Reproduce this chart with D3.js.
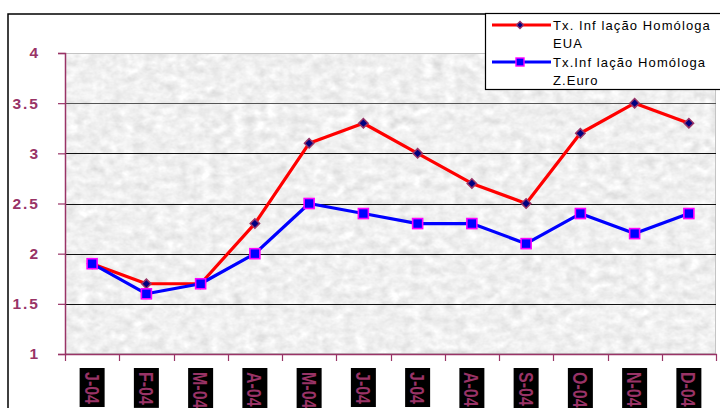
<!DOCTYPE html>
<html>
<head>
<meta charset="utf-8">
<script src="https://cdn.jsdelivr.net/npm/d3@7"></script>
<style>
  html, body { margin: 0; padding: 0; background: #fff; }
  svg { display: block; }
</style>
</head>
<body>
<svg id="chart" width="720" height="408"></svg>
<script>
// Monthly labels for 2004
const months = ["J-04", "F-04", "M-04", "A-04", "M-04", "J-04", "J-04", "A-04", "S-04", "O-04", "N-04", "D-04"];
// Year-on-year inflation, USA
const usaRates = [1.9, 1.7, 1.7, 2.3, 3.1, 3.3, 3.0, 2.7, 2.5, 3.2, 3.5, 3.3];
// Year-on-year inflation, Euro area
const euroRates = [1.9, 1.6, 1.7, 2.0, 2.5, 2.4, 2.3, 2.3, 2.1, 2.4, 2.2, 2.4];
const yTicks = [1, 1.5, 2, 2.5, 3, 3.5, 4];
const seriesNames = [["Tx. Inf lação Homóloga", "EUA"], ["Tx.Inf lação Homóloga", "Z.Euro"]];

const svg = d3.select("#chart");
const plot = { left: 65, right: 716, top: 53, bottom: 354 };
const axisColor = "#993366";
const font = "Arial, 'Liberation Sans', sans-serif";

// Outer chart frame
svg.append("rect")
  .attr("x", 8).attr("y", 14).attr("width", 740).attr("height", 420)
  .attr("fill", "#fff").attr("stroke", "#000").attr("stroke-width", 1.5);

// Mottled light-gray texture for the plot area
const defs = svg.append("defs");
const filt = defs.append("filter").attr("id", "grain")
  .attr("x", 0).attr("y", 0).attr("width", "100%").attr("height", "100%")
  .attr("color-interpolation-filters", "sRGB");
filt.append("feTurbulence")
  .attr("type", "fractalNoise").attr("baseFrequency", "0.09 0.12").attr("numOctaves", 3).attr("seed", 11)
  .attr("result", "noise");
filt.append("feColorMatrix").attr("in", "noise").attr("type", "matrix")
  .attr("values", "0.1 0.1 0.1 0 0.79  0.1 0.1 0.1 0 0.79  0.1 0.1 0.1 0 0.79  0 0 0 0 1")
  .attr("result", "gray");
filt.append("feComposite").attr("in", "gray").attr("in2", "SourceGraphic").attr("operator", "in");

const x = d3.scaleBand().domain(d3.range(months.length)).range([plot.left, plot.right]);
const y = d3.scaleLinear().domain([1, 4]).range([plot.bottom, plot.top]);
const cx = i => x(i) + x.bandwidth() / 2;

svg.append("rect")
  .attr("x", plot.left).attr("y", plot.top)
  .attr("width", plot.right - plot.left).attr("height", plot.bottom - plot.top)
  .attr("fill", "#ebebeb")
  .attr("filter", "url(#grain)");
svg.append("rect")
  .attr("x", plot.left + 0.5).attr("y", plot.top + 0.5)
  .attr("width", plot.right - plot.left - 1).attr("height", plot.bottom - plot.top - 1)
  .attr("fill", "none").attr("stroke", "#c4c4c4").attr("stroke-width", 1);

// Horizontal gridlines
svg.append("g").selectAll("line")
  .data(yTicks.filter(v => v > 1 && v < 4))
  .join("line")
  .attr("x1", plot.left).attr("x2", plot.right)
  .attr("y1", d => Math.round(y(d)) + 0.5).attr("y2", d => Math.round(y(d)) + 0.5)
  .attr("stroke", d => d === 3.5 ? "#555" : "#111").attr("stroke-width", 1);

// Y axis
const yAxis = svg.append("g")
  .attr("transform", `translate(${plot.left},0)`)
  .call(d3.axisLeft(y).tickValues(yTicks).tickSize(7).tickPadding(18)
    .tickFormat(d => String(d)));
yAxis.select(".domain").attr("stroke", axisColor).attr("stroke-width", 1.5);
yAxis.selectAll(".tick line").attr("stroke", axisColor).attr("stroke-width", 1.2);
yAxis.selectAll(".tick text")
  .attr("fill", axisColor)
  .style("font-family", font)
  .style("font-size", "15.5px").style("font-weight", "bold")
  .style("letter-spacing", "2px");

// X axis: ticks at band boundaries
const xAxisG = svg.append("g");
xAxisG.append("line")
  .attr("x1", plot.left).attr("x2", plot.right + 1)
  .attr("y1", plot.bottom + 0.5).attr("y2", plot.bottom + 0.5)
  .attr("stroke", axisColor).attr("stroke-width", 1.5);
const boundaries = d3.range(months.length + 1).map(i => i < months.length ? x(i) : x(i - 1) + x.bandwidth());
xAxisG.selectAll("line.tk").data(boundaries).join("line").attr("class", "tk")
  .attr("x1", d => Math.round(d) + 0.5).attr("x2", d => Math.round(d) + 0.5)
  .attr("y1", plot.bottom).attr("y2", plot.bottom + 7)
  .attr("stroke", axisColor).attr("stroke-width", 1.2);

// Month labels: rotated, tall bold text on black tags sized to the text
const lab = svg.append("g").selectAll("g").data(months).join("g")
  .attr("transform", (d, i) => `translate(${cx(i)},368)`);
lab.append("rect")
  .attr("x", -12.5).attr("y", 0).attr("width", 25).attr("fill", "#000");
const tagText = lab.append("text")
  .attr("transform", "translate(0,4) rotate(90) scale(1,1.3)")
  .attr("dy", "0.36em")
  .attr("fill", axisColor)
  .style("font-family", font)
  .style("font-size", "16px").style("font-weight", "bold")
  .text(d => d);
tagText.each(function () {
  const len = this.getComputedTextLength();
  d3.select(this.parentNode).select("rect").attr("height", len + 7);
});

// Series lines
const line = d3.line().x((d, i) => cx(i)).y(d => y(d));
svg.append("path").datum(usaRates).attr("d", line)
  .attr("fill", "none").attr("stroke", "#ff0000").attr("stroke-width", 3.2).attr("stroke-linejoin", "round");
svg.append("path").datum(euroRates).attr("d", line)
  .attr("fill", "none").attr("stroke", "#0000ff").attr("stroke-width", 3.2).attr("stroke-linejoin", "round");

// Markers
const diamond = d3.symbol().type(d3.symbolSquare).size(44);
svg.append("g").selectAll("path").data(usaRates).join("path")
  .attr("d", diamond)
  .attr("transform", (d, i) => `translate(${cx(i)},${y(d)}) rotate(45)`)
  .attr("fill", "#000080").attr("stroke", axisColor).attr("stroke-width", 1.5);
svg.append("g").selectAll("rect").data(euroRates).join("rect")
  .attr("x", (d, i) => cx(i) - 5).attr("y", d => y(d) - 5)
  .attr("width", 10).attr("height", 10)
  .attr("fill", "#0000ff").attr("stroke", "#ff00ff").attr("stroke-width", 1.6);

// Legend
const leg = svg.append("g");
leg.append("rect").attr("x", 485.5).attr("y", 13.5).attr("width", 260).attr("height", 76)
  .attr("fill", "#fff").attr("stroke", "#000").attr("stroke-width", 1.2);
const legendRows = [
  { color: "#ff0000", y: 25, names: seriesNames[0], marker: "diamond" },
  { color: "#0000ff", y: 62, names: seriesNames[1], marker: "square" }
];
legendRows.forEach(r => {
  leg.append("line").attr("x1", 492).attr("x2", 551).attr("y1", r.y).attr("y2", r.y)
    .attr("stroke", r.color).attr("stroke-width", 3);
  if (r.marker === "diamond") {
    leg.append("path").attr("d", d3.symbol().type(d3.symbolSquare).size(26)())
      .attr("transform", `translate(520,${r.y}) rotate(45)`)
      .attr("fill", "#000080").attr("stroke", axisColor).attr("stroke-width", 1.3);
  } else {
    leg.append("rect").attr("x", 516).attr("y", r.y - 4).attr("width", 8).attr("height", 8)
      .attr("fill", "#0000ff").attr("stroke", "#ff00ff").attr("stroke-width", 1.4);
  }
  r.names.forEach((t, k) => {
    leg.append("text").attr("x", 553).attr("y", r.y + 4.5 + k * 18)
      .attr("fill", "#000")
      .style("font-family", font)
      .style("font-size", "13px")
      .style("letter-spacing", "1.1px")
      .text(t);
  });
});
</script>
</body>
</html>
